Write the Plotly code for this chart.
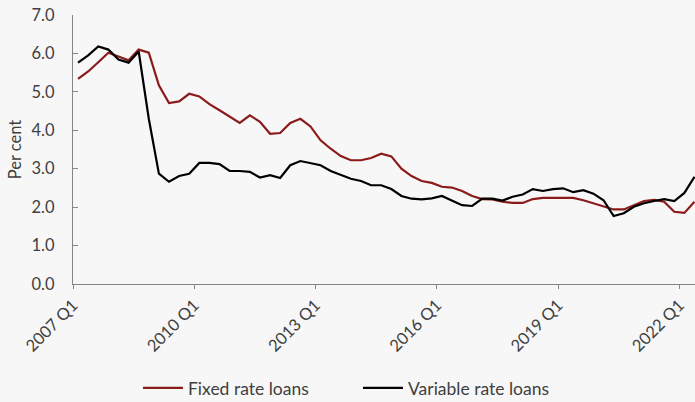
import plotly.graph_objects as go

# Quarterly categories, 2007 Q1 to 2022 Q2
quarters = [f"{y} Q{q}" for y in range(2007, 2023) for q in range(1, 5)][:62]

fixed_rate = [5.34, 5.53, 5.77, 6.02, 5.92, 5.82, 6.10, 6.02, 5.17, 4.71,
              4.75, 4.95, 4.88, 4.68, 4.52, 4.35, 4.19, 4.39, 4.22, 3.91,
              3.93, 4.19, 4.30, 4.10, 3.74, 3.52, 3.33, 3.22, 3.22, 3.28,
              3.39, 3.32, 3.00, 2.81, 2.68, 2.63, 2.53, 2.51, 2.42, 2.29,
              2.21, 2.20, 2.14, 2.11, 2.11, 2.21, 2.24, 2.24, 2.24, 2.24,
              2.18, 2.10, 2.01, 1.94, 1.94, 2.05, 2.16, 2.19, 2.14, 1.88,
              1.85, 2.14]

variable_rate = [5.76, 5.95, 6.18, 6.10, 5.84, 5.76, 6.05, 4.30, 2.87, 2.66,
                 2.81, 2.87, 3.15, 3.15, 3.12, 2.94, 2.94, 2.92, 2.77, 2.83,
                 2.76, 3.09, 3.20, 3.15, 3.09, 2.94, 2.84, 2.74, 2.68, 2.57,
                 2.57, 2.47, 2.29, 2.22, 2.20, 2.23, 2.29, 2.16, 2.05, 2.03,
                 2.22, 2.22, 2.17, 2.27, 2.33, 2.47, 2.42, 2.47, 2.49, 2.39,
                 2.44, 2.35, 2.18, 1.77, 1.84, 2.01, 2.10, 2.16, 2.21, 2.16,
                 2.37, 2.79]

tick_labels = ["2007 Q1", "2010 Q1", "2013 Q1", "2016 Q1", "2019 Q1", "2022 Q1"]
y_ticks = [0, 1, 2, 3, 4, 5, 6, 7]

# category positions (index) and tick positions on category boundaries
xpos = list(range(len(quarters)))
tick_pos = [quarters.index(t) - 0.5 for t in tick_labels]

TXT = "#404040"
AX = "#868686"
BG = "#f7f7f7"
FS = 16.5
LFS = 17.5

fig = go.Figure()
fig.add_trace(go.Scatter(x=xpos, y=fixed_rate, mode="lines",
                         name="Fixed rate loans", text=quarters,
                         hovertemplate="%{text}: %{y:.2f}<extra></extra>",
                         line=dict(color="#8b1a1a", width=2.2)))
fig.add_trace(go.Scatter(x=xpos, y=variable_rate, mode="lines",
                         name="Variable rate loans", text=quarters,
                         hovertemplate="%{text}: %{y:.2f}<extra></extra>",
                         line=dict(color="#000000", width=2.2)))

fig.update_layout(
    width=695, height=402,
    paper_bgcolor=BG, plot_bgcolor=BG,
    font=dict(family="Lato", size=FS, color=TXT),
    margin=dict(l=73, r=0, t=15, b=118, autoexpand=False),
    showlegend=True,
    legend=dict(orientation="h", xref="container", yref="container",
                x=138 / 695, xanchor="left", y=(402 - 388) / 402,
                yanchor="middle",
                font=dict(size=LFS, color=TXT), bgcolor="rgba(0,0,0,0)",
                entrywidth=165, itemwidth=40),
    xaxis=dict(range=[-0.5, 61.05], automargin=False,
               tickmode="array", tickvals=tick_pos, ticktext=tick_labels,
               tickangle=-45,
               ticks="outside", ticklen=4, tickcolor=AX,
               showline=True, linecolor=AX, linewidth=1.3,
               showgrid=False, zeroline=False,
               tickfont=dict(size=FS, color=TXT)),
    yaxis=dict(range=[0, 7], tickvals=y_ticks, automargin=False,
               ticktext=[f"{v:.1f}" for v in y_ticks],
               ticks="inside", ticklen=5, tickcolor=AX,
               showline=True, linecolor=AX, linewidth=1.3,
               showgrid=False, zeroline=False,
               ticklabelstandoff=14,
               tickfont=dict(size=FS, color=TXT),
               title=dict(text="Per cent", font=dict(size=FS, color=TXT),
                          standoff=5)),
)

fig.write_html("out.html",
               config={"displayModeBar": False},
               post_script="document.body.style.margin='0';"
                           "document.body.style.background='%s';" % BG)
